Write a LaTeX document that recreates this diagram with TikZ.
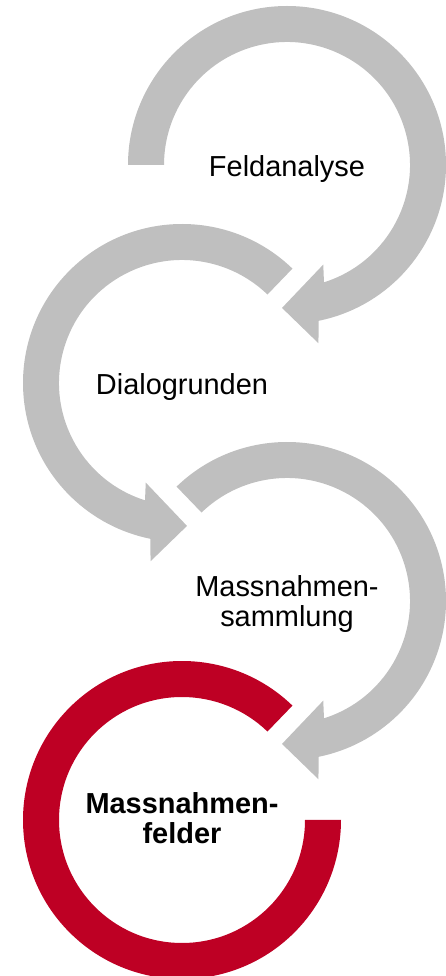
\documentclass[tikz,border=0pt]{standalone}
\usepackage{fontspec}
\setmainfont{Liberation Sans}
\usepackage{tikz}
\usetikzlibrary{calc}
\definecolor{ringgray}{RGB}{191,191,191}
\definecolor{ringred}{RGB}{190,0,36}
\tikzset{steplabel/.style={align=center, inner sep=0pt, font=\fontsize{21.7}{22.5}\selectfont},
grayring/.style={fill=ringgray},
%last step is the red one
redring/.style={fill=ringred}}

\begin{document}
\begin{tikzpicture}[x=0.75pt,y=0.75pt]

  \useasboundingbox (0,0) rectangle (446,976);
  \clip (0,0) rectangle (446,976);

  \coordinate (c1) at (287,811);
  \coordinate (c2) at (182,593);
  \coordinate (c3) at (287,375);
  \coordinate (c4) at (182,156);

  % first ring, clockwise from the left
  \fill[grayring] ($(c1)+(180:159)$) arc[start angle=180, end angle=-78.5, radius=159]
      -- ($(c1)+(-80:181)$) -- ($(c1)+(-92:143)$) -- ($(c1)+(-70:106)$)
      -- ($(c1)+(-72.5:123)$) arc[start angle=-72.5, end angle=180, radius=123] -- cycle;

  % second ring, counter clockwise
  \fill[grayring] ($(c2)+(46:159)$) arc[start angle=46, end angle=258.5, radius=159]
      -- ($(c2)+(260:181)$) -- ($(c2)+(272:143)$) -- ($(c2)+(250:106)$)
      -- ($(c2)+(252.5:123)$) arc[start angle=252.5, end angle=46, radius=123] -- cycle;

  \fill[grayring] ($(c3)+(134:159)$) arc[start angle=134, end angle=-78.5, radius=159]
      -- ($(c3)+(-80:181)$) -- ($(c3)+(-92:143)$) -- ($(c3)+(-70:106)$)
      -- ($(c3)+(-72.5:123)$) arc[start angle=-72.5, end angle=134, radius=123] -- cycle;

  \fill[redring] ($(c4)+(46:159)$) arc[start angle=46, end angle=360, radius=159]
      -- ($(c4)+(360:123)$) arc[start angle=360, end angle=46, radius=123] -- cycle;

  \node[steplabel] (feld) at ($(c1)+(0,-4.5)$) {Feldanalyse};
  \node[steplabel] (dialog) at ($(c2)+(0,-4.5)$) {Dialogrunden};
  \node[steplabel] (sammlung) at ($(c3)+(0,-3.5)$) {Massnahmen-\\sammlung};
  \node[steplabel, font=\fontsize{21.7}{22.5}\selectfont\bfseries] (felder) at ($(c4)+(0,1.5)$) {Massnahmen-\\felder};

\end{tikzpicture}
\end{document}
